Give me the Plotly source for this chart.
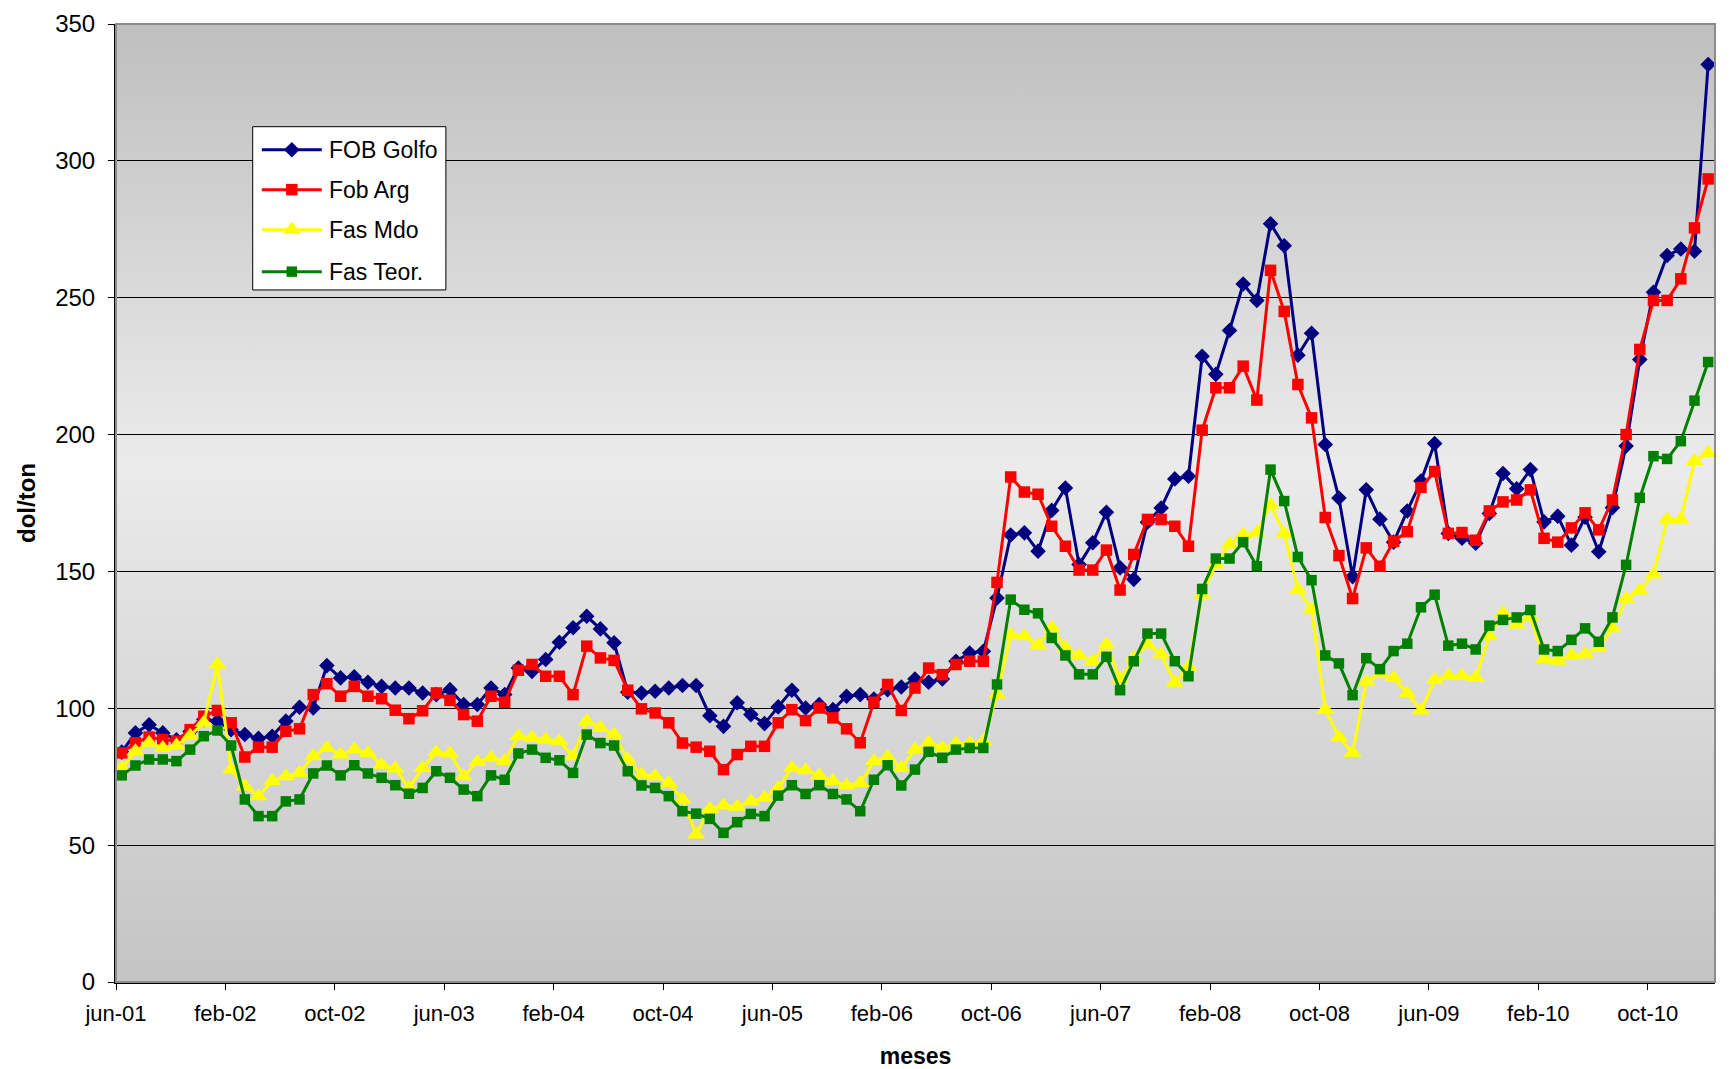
import base64
import plotly.graph_objects as go

# ---- data (dol/ton, monthly jun-01 .. feb-11) ----
MES = ["ene", "feb", "mar", "abr", "may", "jun", "jul", "ago", "sep", "oct", "nov", "dic"]
months = [f"{MES[(5 + k) % 12]}-{(1 + (5 + k) // 12):02d}" for k in range(117)]

tick_labels = ["jun-01", "feb-02", "oct-02", "jun-03", "feb-04", "oct-04", "jun-05", "feb-06",
               "oct-06", "jun-07", "feb-08", "oct-08", "jun-09", "feb-10", "oct-10"]

fob_golfo = [
    84, 91, 94, 91, 88.5, 91.5, 95.9, 95.3, 92.2, 90.4,
    89, 89.8, 95.3, 100.4, 100.1, 115.6, 111.1, 111.5, 109.5, 108,
    107.4, 107.4, 105.6, 105.0, 106.8, 101.4, 101.4, 107.4, 105.0, 114.7,
    113.5, 117.8, 124.1, 129.4, 133.6, 129.0, 123.9, 105.9, 105.6, 106.2,
    107.4, 108.3, 108.3, 97.3, 93.4, 102, 97.7, 94.4, 100.5, 106.6,
    100.1, 101.4, 99.5, 104.4, 105.0, 103.4, 106.8, 107.8, 110.7, 109.5,
    110.7, 117.2, 120.2, 120.8, 140.3, 163.3, 164.1, 157.4, 172.3, 180.5,
    152.5, 160.5, 171.6, 151.3, 147.1, 168, 173.2, 183.8, 184.8, 228.6,
    222, 238, 255, 249, 277, 269, 229, 237, 196.4, 176.8,
    148.1, 179.8, 169.1, 160.7, 172.1, 183.0, 196.7, 163.9, 162.1, 160.3,
    171.2, 185.8, 180.2, 187.2, 168.1, 170.2, 159.6, 169.8, 157.2, 173.3,
    195.8, 227.4, 252.0, 265.4, 267.8, 267.0, 335.2]

fob_arg = [
    83.7, 87.4, 89.5, 88.6, 88, 92.2, 97.1, 99.2, 94.7, 82.2,
    85.8, 85.8, 91.6, 92.5, 105, 109, 104.4, 108, 104.4, 103.5,
    99.3, 96.2, 99.1, 105.6, 102.9, 97.7, 95.3, 104.4, 102.2, 113.9,
    116.0, 111.7, 111.7, 105.0, 122.7, 118.4, 117.5, 106.6, 99.8, 98.3,
    94.7, 87.3, 85.8, 84.3, 77.6, 83.1, 86.1, 86.1, 94.7, 99.5,
    95.5, 100.1, 96.5, 92.5, 87.4, 102.2, 108.7, 99.2, 107.4, 114.7,
    112.3, 116.0, 117.2, 117.2, 146, 184.5, 179, 178.2, 166.5, 159.2,
    150.5, 150.5, 157.8, 143.2, 156.2, 169.0, 169.0, 166.5, 159.2, 201.6,
    217.1, 217.1, 225, 212.6, 260, 245, 218.3, 206.1, 169.7, 155.8,
    140.1, 158.6, 151.9, 161.0, 164.5, 180.7, 186.5, 163.9, 164.2, 161.4,
    172.1, 175.4, 176.1, 179.8, 162.1, 160.7, 165.9, 171.4, 165.2, 176.1,
    200.0, 231.1, 249.0, 249.0, 256.9, 275.5, 293.4]

fas_mdo = [
    78.2, 84.3, 87.4, 85.5, 86.4, 90, 94.7, 116, 77.6, 71.5,
    67.9, 73.4, 75.2, 76.4, 82.5, 85.5, 83.1, 84.9, 83.7, 79.4,
    78, 70.9, 78.2, 83.9, 83.5, 75.2, 80.4, 81.9, 80.7, 89.8,
    89.2, 88.6, 88.0, 82.5, 95.3, 92.8, 90.4, 81.3, 75.8, 75.2,
    72.7, 66.7, 53.9, 63.2, 64.5, 64, 66.0, 67.3, 70.9, 78.2,
    77.4, 75.4, 73.4, 71.8, 72.7, 80.7, 82.2, 78.2, 84.9, 87.4,
    85.5, 87.1, 87.1, 88.0, 105.0, 126.9, 126.3, 123, 129.4, 122.1,
    119.3, 117.2, 123.3, 110.5, 118.4, 123.3, 119.7, 109.3, 115.2, 141.6,
    152.5, 159.8, 163.5, 164.1, 174.4, 163.9, 143.4, 136.1, 99.6, 89.4,
    83.8, 109.7, 112.5, 111.1, 105.5, 99.2, 110.4, 111.8, 111.8, 111.3,
    126.4, 134.8, 130.6, 133.4, 118.0, 117.4, 119.4, 119.7, 122.0, 129.2,
    140, 143, 149, 169.0, 169.0, 190.3, 193.3]

fas_teor = [
    75.5, 79.1, 81.3, 81.3, 80.7, 84.9, 89.8, 91.9, 86.4, 66.7,
    60.6, 60.6, 66.0, 66.7, 76.2, 79.1, 75.5, 79.2, 76.2, 74.6,
    71.9, 68.8, 70.9, 77.0, 74.6, 70.3, 67.9, 75.5, 73.9, 83.5,
    84.9, 81.9, 81.0, 76.4, 90.4, 87.3, 86.4, 77.0, 71.8, 70.9,
    67.9, 62.4, 61.5, 59.6, 54.5, 58.4, 61.4, 60.6, 68.1, 71.9,
    68.7, 71.9, 68.7, 66.7, 62.4, 73.9, 79.2, 71.8, 77.6, 84.1,
    81.9, 84.9, 85.5, 85.5, 108.7, 139.7, 136.0, 134.7, 125.7, 119.3,
    112.4, 112.4, 118.8, 106.6, 117.2, 127.3, 127.3, 117.2, 111.7, 143.6,
    154.7, 154.7, 160.7, 151.9, 187.2, 175.7, 155.3, 146.8, 119.3, 116.4,
    104.8, 118.3, 114.3, 120.9, 123.6, 136.9, 141.5, 122.9, 123.6, 121.5,
    130.2, 132.3, 133.2, 135.9, 121.5, 120.9, 125.0, 129.2, 124.3, 133.2,
    152.4, 176.9, 192.1, 191.1, 197.6, 212.4, 226.5]

series_names = ["FOB Golfo", "Fob Arg", "Fas Mdo", "Fas Teor."]
series_values = [fob_golfo, fob_arg, fas_mdo, fas_teor]

# ---- styles ----
colors = ["#000080", "#ff0000", "#ffff00", "#008000"]
symbols = ["diamond", "square", "triangle-up", "square"]
msizes = [12, 11.5, 16, 10.5]

x = list(range(len(months)))
TICK_SHIFT = 0.42
tickvals = [months.index(t) - TICK_SHIFT for t in tick_labels]

FONT = "Liberation Sans, Arial, sans-serif"

fig = go.Figure()
for name, vals, col, sym, sz in zip(series_names, series_values, colors, symbols, msizes):
    fig.add_trace(go.Scatter(
        x=x, y=vals, name=name, mode="lines+markers",
        line=dict(color=col, width=3),
        marker=dict(symbol=sym, size=sz, color=col, line=dict(width=0)),
        cliponaxis=False, showlegend=False,
        customdata=months, hovertemplate="%{customdata}: %{y}<extra>" + name + "</extra>",
    ))

# ---- legend box drawn on an overlay axis (fractions of the plot area) ----
LX0, LX1, LY0, LY1 = 0.0855, 0.2063, 0.7224, 0.8928
row_y = [0.8688, 0.8271, 0.7853, 0.7415]
SX0, SX1 = 0.0912, 0.1287
TX = 0.1322
fig.add_trace(go.Scatter(x=[LX0, LX1, LX1, LX0, LX0], y=[LY0, LY0, LY1, LY1, LY0],
                         xaxis="x2", yaxis="y2", mode="lines", fill="toself",
                         fillcolor="white", line=dict(color="black", width=1),
                         showlegend=False, hoverinfo="skip"))
annotations = []
for name, col, sym, sz, ry in zip(series_names, colors, symbols, msizes, row_y):
    fig.add_trace(go.Scatter(x=[SX0, SX1], y=[ry, ry], xaxis="x2", yaxis="y2", mode="lines",
                             line=dict(color=col, width=3), showlegend=False, hoverinfo="skip"))
    fig.add_trace(go.Scatter(x=[(SX0 + SX1) / 2], y=[ry], xaxis="x2", yaxis="y2", mode="markers",
                             marker=dict(symbol=sym, size=sz, color=col, line=dict(width=0)),
                             showlegend=False, hoverinfo="skip"))
    annotations.append(dict(text=name, xref="paper", yref="paper", x=TX, y=ry,
                            xanchor="left", yanchor="middle", showarrow=False,
                            font=dict(family=FONT, size=23, color="black")))

svg = ('<svg xmlns="http://www.w3.org/2000/svg" width="100" height="100" viewBox="0 0 100 100" '
       'preserveAspectRatio="none"><defs><linearGradient id="g" x1="0" y1="0" x2="0" y2="1">'
       '<stop offset="0" stop-color="#bfbfbf"/><stop offset="0.46" stop-color="#ebebeb"/>'
       '<stop offset="1" stop-color="#c4c4c4"/></linearGradient></defs>'
       '<rect x="0" y="0" width="100" height="100" fill="url(#g)"/></svg>')
svg_uri = "data:image/svg+xml;base64," + base64.b64encode(svg.encode()).decode()

fig.update_layout(
    width=1731, height=1069,
    margin=dict(l=116, r=15.5, t=24, b=86.5, autoexpand=False),
    paper_bgcolor="white", plot_bgcolor="rgba(0,0,0,0)",
    font=dict(family=FONT, color="black"),
    images=[dict(source=svg_uri, xref="paper", yref="paper", x=0, y=1, sizex=1, sizey=1,
                 xanchor="left", yanchor="top", sizing="stretch", layer="below")],
    shapes=[dict(type="rect", xref="paper", yref="paper", x0=0, y0=0, x1=1, y1=1,
                 line=dict(color="#8c8c8c", width=2), layer="above")],
    annotations=annotations,
    showlegend=False,
    xaxis=dict(range=[-TICK_SHIFT, 116.5], tickmode="array", tickvals=tickvals, ticktext=tick_labels,
               showgrid=False, zeroline=False, showline=True, linecolor="black", linewidth=2,
               ticks="outside", ticklen=6, tickcolor="black", tickwidth=1,
               tickfont=dict(family=FONT, size=22), ticklabelstandoff=5,
               title=dict(text="<b>meses</b>", font=dict(family=FONT, size=23), standoff=24)),
    yaxis=dict(range=[0, 350], tickmode="array", tickvals=[0, 50, 100, 150, 200, 250, 300, 350],
               showgrid=True, gridcolor="black", gridwidth=1, zeroline=False,
               showline=True, linecolor="black", linewidth=2,
               ticks="outside", ticklen=6, tickcolor="black", tickwidth=1,
               tickfont=dict(family=FONT, size=24), ticklabelstandoff=8,
               title=dict(text="<b>dol/ton</b>", font=dict(family=FONT, size=24), standoff=13)),
    xaxis2=dict(overlaying="x", range=[0, 1], visible=False, fixedrange=True),
    yaxis2=dict(overlaying="y", range=[0, 1], visible=False, fixedrange=True),
)

fig.write_html("out.html", config={"displayModeBar": False},
               post_script="document.body.style.margin='0px';")
